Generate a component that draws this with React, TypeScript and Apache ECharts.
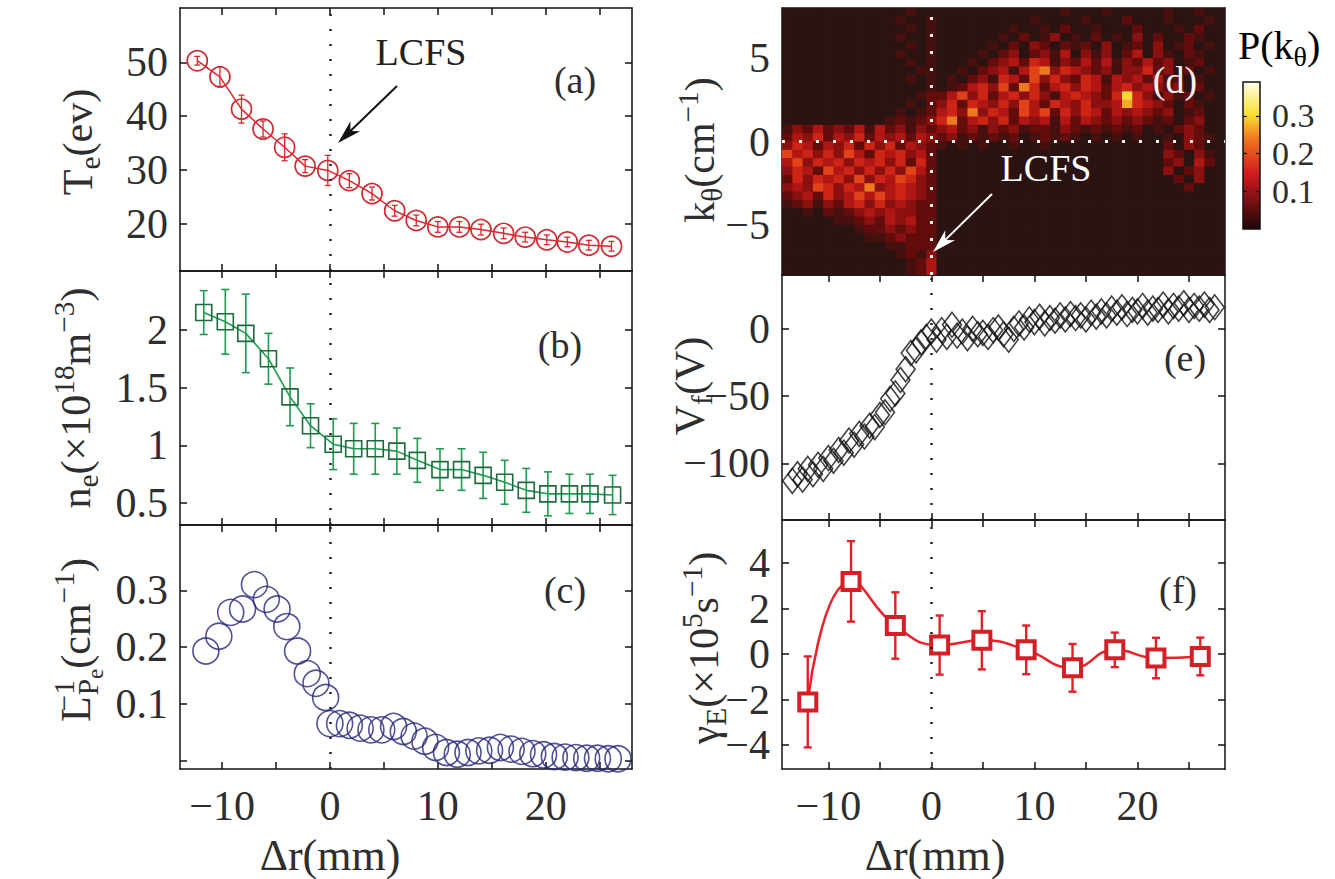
import React, { useEffect, useRef } from 'react';
import * as echarts from 'echarts';

const FONT = 'Liberation Serif';
const INK = '#2e2e2e';

// ---------- (a) electron temperature ----------
const teX = [-12.3, -10.2, -8.2, -6.2, -4.2, -2.3, -0.2, 1.8, 3.9, 6.0, 8.0, 10.0, 12.0, 14.0, 16.1, 18.1, 20.1, 22.0, 24.0, 26.1];
const teY = [50.3, 47.3, 41.3, 37.6, 34.2, 30.7, 29.9, 28.0, 25.6, 22.4, 20.6, 19.4, 19.4, 18.9, 18.2, 17.5, 17.0, 16.6, 16.0, 15.8];
const teErr = [0.8, 1.9, 2.6, 1.5, 2.5, 1.2, 2.8, 1.3, 1.2, 1.0, 1.0, 1.0, 1.0, 1.0, 1.0, 0.9, 0.9, 0.9, 0.9, 0.9];

// ---------- (b) electron density ----------
const neX = [-11.7, -9.7, -7.8, -5.7, -3.7, -1.8, 0.3, 2.2, 4.2, 6.2, 8.1, 10.2, 12.2, 14.2, 16.2, 18.2, 20.2, 22.2, 24.1, 26.2];
const neY = [2.15, 2.07, 1.97, 1.75, 1.42, 1.17, 1.01, 0.97, 0.97, 0.95, 0.87, 0.79, 0.79, 0.74, 0.68, 0.61, 0.58, 0.58, 0.58, 0.57];
const neErr = [0.19, 0.28, 0.34, 0.22, 0.25, 0.19, 0.22, 0.22, 0.22, 0.2, 0.19, 0.18, 0.18, 0.2, 0.19, 0.19, 0.19, 0.17, 0.17, 0.17];

// ---------- (c) inverse pressure gradient length ----------
const lpX = [-11.5, -10.3, -9.2, -8.1, -7.0, -5.9, -4.9, -4.0, -3.0, -2.1, -1.3, -0.4, 0.0, 0.9, 1.8, 2.8, 3.8, 4.8, 5.9, 6.8, 7.8, 8.8, 9.8, 10.8, 11.8, 12.8, 13.8, 14.8, 15.8, 16.8, 17.8, 18.8, 19.8, 20.8, 21.8, 22.8, 23.8, 24.8, 25.8, 26.7];
const lpY = [0.193, 0.219, 0.261, 0.267, 0.31, 0.284, 0.267, 0.236, 0.193, 0.153, 0.136, 0.111, 0.065, 0.065, 0.062, 0.057, 0.054, 0.054, 0.06, 0.051, 0.043, 0.034, 0.023, 0.014, 0.011, 0.014, 0.017, 0.018, 0.023, 0.02, 0.016, 0.012, 0.01, 0.007, 0.006, 0.005, 0.004, 0.004, 0.003, 0.003];

// ---------- (d) P(k_theta) map: rows from k=7.75 (top) to k=-7.75 (bottom), 0.5 steps;
// columns dr = -14..-1 | 0 | 1..28 (1 mm); each digit = level * kthLevel
const kthRows: string[][] = [
  ['00000000000010', '0', '0000000000001000100000100100'],
  ['00000000000100', '1', '0000000001000010002000100010'],
  ['00000000000010', '1', '0000000100102001000200010200'],
  ['00000000000100', '1', '0000001020130102010302002100'],
  ['00000000000010', '1', '0000010203202120301203012010'],
  ['00000000000100', '1', '0000102302314031302403102100'],
  ['00000000000010', '1', '0001023425413242413242301200'],
  ['00000000000001', '1', '0010234146735432313352302010'],
  ['00000000000010', '1', '0102315426353254143424120100'],
  ['00000000000000', '1', '0124536275245354245343230200'],
  ['00000000000001', '2', '2463524535314543259531312010'],
  ['00000000000010', '2', '3525435364254353348543202100'],
  ['00000000000101', '2', '4537354264625354243432301200'],
  ['00000000001212', '3', '5724535243414243232321202300'],
  ['13242324142313', '2', '3423132312213212121201023200'],
  ['24352435243424', '3', '2312121201212101010100103210'],
  ['35424352535243', '2', '1010100100100000000000203200'],
  ['64535364254534', '2', '0000000000000000000000320310'],
  ['46354535453525', '2', '0000000000000000000000230420'],
  ['35426453535364', '2', '0000000000000000000000302300'],
  ['25354536354653', '2', '0000000000000000000000020300'],
  ['34365354734543', '2', '0000000000000000000000002000'],
  ['23425346464543', '2', ''],
  ['12313245353432', '2', ''],
  ['00102123434332', '2', ''],
  ['00000112324342', '2', ''],
  ['00000001223232', '2', ''],
  ['00000000112322', '2', ''],
  ['00000000001122', '2', ''],
  ['00000000000121', '3', ''],
  ['00000000000012', '4', ''],
  ['00000000000012', '4', ''],
];
const kthLevel = 0.035;

// ---------- (e) floating potential ----------
const vfX = [-13.5, -13, -12.5, -12, -11.5, -11, -10.5, -10, -9.5, -9, -8.5, -8, -7.5, -7, -6.5, -6, -5.5, -5, -4.5, -4, -3.5, -3, -2.5, -2, -1.5, -1, -0.5, 0, 0.5, 1, 1.5, 2, 2.5, 3, 3.5, 4, 4.5, 5, 5.5, 6, 6.5, 7, 7.5, 8, 8.5, 9, 9.5, 10, 10.5, 11, 11.5, 12, 12.5, 13, 13.5, 14, 14.5, 15, 15.5, 16, 16.5, 17, 17.5, 18, 18.5, 19, 19.5, 20, 20.5, 21, 21.5, 22, 22.5, 23, 23.5, 24, 24.5, 25, 25.5, 26, 26.5, 27, 27.5];
const vfY = [-113, -108, -112, -104, -108, -101, -104, -96, -98, -90, -92, -83, -86, -78, -80, -72, -73, -64, -62, -52, -48, -38, -30, -18, -16, -10, -6, -2, -8, -1, -6, 3, -5, -2, -7, 0, -4, -3, -6, -1, 1, -4, -8, 0, 4, 1, 7, 5, 9, 4, 8, 6, 10, 7, 11, 8, 10, 7, 12, 9, 13, 10, 15, 12, 16, 11, 14, 13, 17, 12, 15, 14, 18, 13, 17, 15, 19, 14, 17, 15, 18, 14, 16];

// ---------- (f) ExB shearing rate ----------
const geX = [-12.0, -7.8, -3.5, 0.8, 4.9, 9.2, 13.7, 17.8, 21.8, 26.1];
const geY = [-2.1, 3.2, 1.26, 0.4, 0.61, 0.19, -0.6, 0.19, -0.17, -0.1];
const geErr = [2.0, 1.77, 1.46, 1.3, 1.28, 1.07, 1.05, 0.76, 0.89, 0.83];

// ---------- ticks ----------
const xTicks = [-10, -5, 0, 5, 10, 15, 20, 25];
const xTickLabels = [-10, 0, 10, 20];
const teTicks = [20, 30, 40, 50];
const neTicks = [0.5, 1, 1.5, 2];
const lpTicks = [0, 0.1, 0.2, 0.3];
const lpTickLabels = [0.1, 0.2, 0.3];
const kTicks = [-5, 0, 5];
const vfTicks = [-100, -50, 0];
const geTicks = [-4, -2, 0, 2, 4];
const cbTicks = [0.1, 0.2, 0.3];
const cbLabelsOuter = [0.1, 0.3];
const cbLabelsInner = [0.2];

const hotColors = ['#2a1311', '#5c0d0c', '#a81212', '#dc2c16', '#f29020', '#f8e438', '#ffffee'];

const minus = (v: number) => String(v).replace('-', '\u2212');

function xAxes(grid: number, min: number, max: number, labels: number[] | null) {
  const mk = (pos: string, show: boolean) => ({
    type: 'value', gridIndex: grid, position: pos, min, max,
    axisLine: { show: true, onZero: false, lineStyle: { color: '#111', width: 1.5 } },
    axisTick: { show: true, inside: true, length: 7, customValues: xTicks, lineStyle: { color: '#111', width: 1.5 } },
    axisLabel: { show, customValues: labels || xTicks, formatter: minus, fontFamily: FONT, fontSize: 42, color: INK, margin: 16, hideOverlap: false },
    splitLine: { show: false },
  });
  return [mk('bottom', !!labels), mk('top', false)];
}

function yAxes(grid: number, min: number, max: number, ticks: number[], labels: number[]) {
  const mk = (pos: string, show: boolean) => ({
    type: 'value', gridIndex: grid, position: pos, min, max,
    axisLine: { show: true, onZero: false, lineStyle: { color: '#111', width: 1.5 } },
    axisTick: { show: true, inside: true, length: 7, customValues: ticks, lineStyle: { color: '#111', width: 1.5 } },
    axisLabel: { show, customValues: labels, formatter: minus, fontFamily: FONT, fontSize: 42, color: INK, margin: 12, hideOverlap: false },
    splitLine: { show: false },
  });
  return [mk('left', true), mk('right', false)];
}

function errSeries(axis: number, xs: number[], ys: number[], es: number[], color: string, width: number, cap: number) {
  return {
    type: 'custom', xAxisIndex: axis, yAxisIndex: axis, silent: true, z: 3,
    data: xs.map((x, i) => [x, ys[i] - es[i], ys[i] + es[i]]),
    encode: { x: 0, y: [1, 2] },
    renderItem: (params: any, api: any) => {
      const x = api.value(0);
      const lo = api.coord([x, api.value(1)]);
      const hi = api.coord([x, api.value(2)]);
      const st = { stroke: color, lineWidth: width };
      return {
        type: 'group',
        children: [
          { type: 'line', shape: { x1: lo[0], y1: lo[1], x2: hi[0], y2: hi[1] }, style: st },
          { type: 'line', shape: { x1: lo[0] - cap, y1: lo[1], x2: lo[0] + cap, y2: lo[1] }, style: st },
          { type: 'line', shape: { x1: hi[0] - cap, y1: hi[1], x2: hi[0] + cap, y2: hi[1] }, style: st },
        ],
      };
    },
  };
}

const zeroLine = (color: string, dash: number[], width: number, data: any[]) => ({
  silent: true, symbol: ['none', 'none'], label: { show: false },
  lineStyle: { color, type: dash, width, cap: 'butt' },
  emphasis: { disabled: true },
  data,
});

function arrow(x1: number, y1: number, x2: number, y2: number, color: string) {
  const a = Math.atan2(y2 - y1, x2 - x1);
  const L = 24, W = 7;
  const c = Math.cos(a), s = Math.sin(a);
  const bx = x2 - L * c, by = y2 - L * s;
  const nx = x2 - 0.72 * L * c, ny = y2 - 0.72 * L * s;
  return [
    { type: 'line', z: 100, shape: { x1, y1, x2: nx, y2: ny }, style: { stroke: color, lineWidth: 2 } },
    { type: 'polygon', z: 100, shape: { points: [[x2, y2], [bx - s * W, by + c * W], [nx, ny], [bx + s * W, by - c * W]] }, style: { fill: color } },
  ];
}

const rich = (color: string, size: number) => ({
  n: { fontSize: size, fontFamily: FONT, color },
  sub: { fontSize: size * 0.7, fontFamily: FONT, color, padding: [size * 0.55, 0, 0, 0] },
  sup: { fontSize: size * 0.7, fontFamily: FONT, color, padding: [0, 0, size * 0.55, 0] },
  supz: { fontSize: size * 0.7, fontFamily: FONT, color, padding: [0, 0, size * 0.55, 0], width: 1 },
  subsub: { fontSize: size * 0.55, fontFamily: FONT, color, padding: [size * 0.9, 0, 0, 0] },
});

const vTitle = (text: string, x: number, y: number) => ({
  type: 'text', x, y, rotation: Math.PI / 2, z: 100,
  style: { text, rich: rich(INK, 42), align: 'center', verticalAlign: 'middle', fontFamily: FONT, fontSize: 42, fill: INK },
});

const label = (text: string, x: number, y: number, color = INK, size = 38) => ({
  type: 'text', x, y, z: 100,
  style: { text, fontFamily: FONT, fontSize: size, fill: color, align: 'center', verticalAlign: 'middle' },
});

const cbAxisLabel = (values: number[]) => ({
  show: true, customValues: values, fontFamily: FONT, fontSize: 34, color: INK, margin: 12,
  hideOverlap: false, showMinLabel: true, showMaxLabel: true,
});

export default function App() {
  const ref = useRef<HTMLDivElement>(null);

  useEffect(() => {
    if (!ref.current) return;
    const chart = echarts.init(ref.current, null, { renderer: 'svg' });

    const heatData: number[][] = [];
    kthRows.forEach((parts, r) => {
      const row = (parts[0] + parts[1] + parts[2]).padEnd(43, '0');
      const k = 7.75 - 0.5 * r;
      for (let c = 0; c < 43; c++) {
        heatData.push([-14 + c, k, Number(row[c]) * kthLevel]);
      }
    });

    const LX = [-13.9, 28];
    const RX = [-14.5, 28.5];
    const CB = { left: 1243, top: 82, width: 17, height: 147 };

    const option: any = {
      animation: false,
      backgroundColor: '#fff',
      textStyle: { fontFamily: FONT },
      grid: [
        { left: 180, top: 8, width: 452, height: 263 },
        { left: 180, top: 271, width: 452, height: 254 },
        { left: 180, top: 525, width: 452, height: 244 },
        { left: 782, top: 8, width: 443, height: 267, show: true, backgroundColor: '#2a1311', borderWidth: 0 },
        { left: 782, top: 275, width: 443, height: 245 },
        { left: 782, top: 520, width: 443, height: 249 },
        {
          ...CB, show: true, borderColor: '#111', borderWidth: 1.5,
          backgroundColor: new echarts.graphic.LinearGradient(0, 1, 0, 0, [
            { offset: 0, color: '#1e0606' },
            { offset: 0.375, color: '#d01a1e' },
            { offset: 0.6, color: '#f07020' },
            { offset: 0.78, color: '#f8e030' },
            { offset: 1, color: '#ffffe8' },
          ]),
        },
        { ...CB },
      ],
      xAxis: [
        ...xAxes(0, LX[0], LX[1], null),
        ...xAxes(1, LX[0], LX[1], null),
        ...xAxes(2, LX[0], LX[1], xTickLabels),
        ...xAxes(3, RX[0], RX[1], null),
        ...xAxes(4, RX[0], RX[1], null),
        ...xAxes(5, RX[0], RX[1], xTickLabels),
        { type: 'value', gridIndex: 6, show: false, min: 0, max: 1 },
        { type: 'value', gridIndex: 7, show: false, min: 0, max: 1 },
      ],
      yAxis: [
        ...yAxes(0, 11.2, 60.1, teTicks, teTicks),
        ...yAxes(1, 0.31, 2.51, neTicks, neTicks),
        ...yAxes(2, -0.015, 0.415, lpTicks, lpTickLabels),
        ...yAxes(3, -8, 8, kTicks, kTicks),
        ...yAxes(4, -142, 40, vfTicks, vfTicks),
        ...yAxes(5, -5.05, 5.9, geTicks, geTicks),
        {
          type: 'value', gridIndex: 6, position: 'left', min: 0, max: 0.39,
          axisLine: { show: false }, axisLabel: { show: false }, splitLine: { show: false },
          axisTick: { show: true, inside: true, length: 4, customValues: cbTicks, lineStyle: { color: '#111', width: 1.2 } },
        },
        {
          type: 'value', gridIndex: 6, position: 'right', min: 0, max: 0.39,
          axisLine: { show: false }, splitLine: { show: false },
          axisTick: { show: true, inside: true, length: 4, customValues: cbTicks, lineStyle: { color: '#111', width: 1.2 } },
          axisLabel: cbAxisLabel(cbLabelsOuter),
        },
        {
          type: 'value', gridIndex: 7, position: 'right', min: 0, max: 0.39,
          axisLine: { show: false }, splitLine: { show: false }, axisTick: { show: false },
          axisLabel: cbAxisLabel(cbLabelsInner),
        },
      ],
      visualMap: {
        type: 'continuous', show: false, min: 0, max: 0.39, dimension: 2, seriesIndex: 5,
        inRange: { color: hotColors },
      },
      series: [
        errSeries(0, teX, teY, teErr, '#d8262e', 1.3, 3),
        {
          type: 'line', xAxisIndex: 0, yAxisIndex: 0, z: 4,
          data: teX.map((x, i) => [x, teY[i]]),
          symbol: 'circle', symbolSize: 20,
          lineStyle: { color: '#e3242b', width: 1.5 },
          itemStyle: { color: 'rgba(0,0,0,0)', borderColor: '#cf2a30', borderWidth: 1.7 },
          markLine: zeroLine('#222', [2, 13], 2.5, [{ xAxis: 0 }]),
        },
        errSeries(2, neX, neY, neErr, '#1f9a4e', 1.6, 4),
        {
          type: 'line', xAxisIndex: 2, yAxisIndex: 2, z: 4,
          data: neX.map((x, i) => [x, neY[i]]),
          symbol: 'rect', symbolSize: 16,
          lineStyle: { color: '#1f9a4e', width: 1.6 },
          itemStyle: { color: 'rgba(0,0,0,0)', borderColor: '#1d6a3c', borderWidth: 1.6 },
          markLine: zeroLine('#222', [2, 13], 2.5, [{ xAxis: 0 }]),
        },
        {
          type: 'scatter', xAxisIndex: 4, yAxisIndex: 4, z: 4,
          data: lpX.map((x, i) => [x, lpY[i]]),
          symbol: 'circle', symbolSize: 26,
          itemStyle: { color: 'rgba(0,0,0,0)', borderColor: '#26267e', borderWidth: 1.6 },
          markLine: zeroLine('#222', [2, 13], 2.5, [{ xAxis: 0 }]),
        },
        {
          type: 'custom', xAxisIndex: 6, yAxisIndex: 6, clip: true, silent: true,
          data: heatData,
          encode: { x: 0, y: 1 },
          renderItem: (params: any, api: any) => {
            const x = api.value(0), y = api.value(1);
            const p0 = api.coord([x - 0.5, y + 0.25]);
            const p1 = api.coord([x + 0.5, y - 0.25]);
            return {
              type: 'rect',
              shape: { x: p0[0], y: p0[1], width: p1[0] - p0[0] + 0.6, height: p1[1] - p0[1] + 0.6 },
              style: { fill: api.visual('color') },
            };
          },
        },
        {
          type: 'line', xAxisIndex: 6, yAxisIndex: 6, z: 6,
          data: [[0, 0]], symbol: 'none', lineStyle: { opacity: 0 },
          markLine: zeroLine('#f4f0ea', [3, 14], 3, [{ xAxis: 0 }, { yAxis: 0 }]),
        },
        {
          type: 'scatter', xAxisIndex: 8, yAxisIndex: 8, z: 4,
          data: vfX.map((x, i) => [x, vfY[i]]),
          symbol: 'diamond', symbolSize: [19, 25],
          itemStyle: { color: 'rgba(0,0,0,0)', borderColor: '#111', borderWidth: 1.6 },
          markLine: zeroLine('#222', [2, 13], 2.5, [{ xAxis: 0 }]),
        },
        errSeries(10, geX, geY, geErr, '#e3202a', 2.4, 4),
        {
          type: 'line', xAxisIndex: 10, yAxisIndex: 10, z: 4, smooth: 0.5,
          data: geX.map((x, i) => [x, geY[i]]),
          symbol: 'rect', symbolSize: 17,
          lineStyle: { color: '#e8212a', width: 2.5 },
          itemStyle: { color: '#fff', borderColor: '#d41f27', borderWidth: 4 },
          markLine: zeroLine('#222', [2, 13], 2.5, [{ xAxis: 0 }]),
        },
      ],
      graphic: [
        label('(a)', 575, 80),
        label('(b)', 560, 345),
        label('(c)', 565, 590),
        label('(d)', 1175, 80, '#f2f2f2'),
        label('(e)', 1185, 358),
        label('(f)', 1178, 590),
        label('LCFS', 421, 52, '#222', 38),
        ...arrow(397, 86, 338, 143, '#111'),
        label('LCFS', 1046, 168, '#ffffff', 38),
        ...arrow(992, 194, 933, 252, '#ffffff'),
        label('\u0394r(mm)', 330, 855, INK, 44),
        label('\u0394r(mm)', 935, 855, INK, 44),
        vTitle('{n|T}{sub|e}{n|(ev)}', 78, 142),
        vTitle('{n|n}{sub|e}{n|(\u00d710}{sup|18}{n|m}{sup|\u22123}{n|)}', 76, 398),
        vTitle('{n|L}{supz|\u22121}{sub|P}{subsub|e}{n|(cm}{sup|\u22121}{n|)}', 76, 640),
        vTitle('{n|k}{sub|\u03b8}{n|(cm}{sup|\u22121}{n|)}', 700, 150),
        vTitle('{n|V}{sub|f}{n|(V)}', 690, 386),
        vTitle('{n|\u03b3}{sub|E}{n|(\u00d710}{sup|5}{n|s}{sup|\u22121}{n|)}', 704, 648),
        {
          type: 'text', x: 1238, y: 45, z: 100,
          style: { text: '{n|P(k}{sub|\u03b8}{n|)}', rich: rich(INK, 40), align: 'left', verticalAlign: 'middle' },
        },
      ],
    };

    chart.setOption(option);
    return () => chart.dispose();
  }, []);

  return <div ref={ref} style={{ position: 'absolute', left: 0, top: 0, width: 1335, height: 879, background: '#fff' }} />;
}
